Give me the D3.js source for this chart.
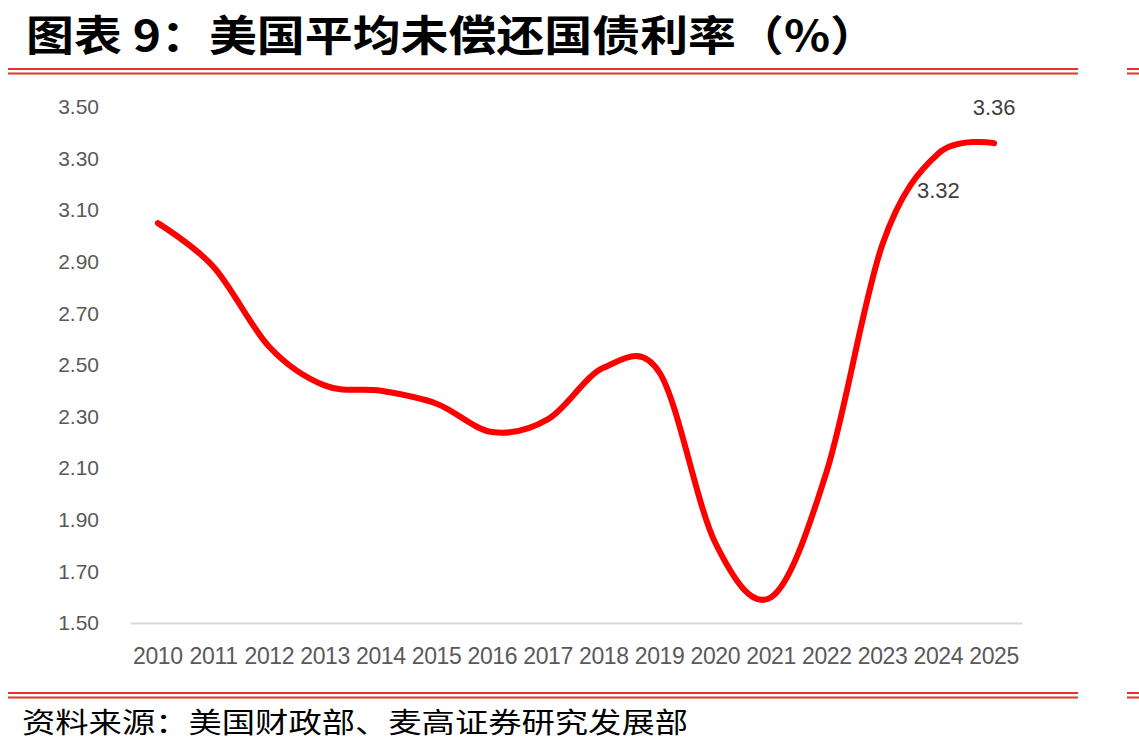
<!DOCTYPE html>
<html>
<head>
<meta charset="utf-8">
<script src="https://cdn.jsdelivr.net/npm/d3@7"></script>
<style>
  html, body { margin: 0; padding: 0; background: #fff; }
  svg { display: block; }
</style>
</head>
<body>
<svg id="chart" width="1139" height="754"></svg>
<script>
const titleText = "图表 9：美国平均未偿还国债利率（%）";
const sourceText = "资料来源：美国财政部、麦高证券研究发展部";
const years = ["2010","2011","2012","2013","2014","2015","2016","2017","2018","2019","2020","2021","2022","2023","2024","2025"];
const rates = [3.05, 2.88, 2.57, 2.42, 2.40, 2.35, 2.24, 2.29, 2.49, 2.47, 1.81, 1.60, 2.09, 2.97, 3.32, 3.36];
const yTicks = [1.50, 1.70, 1.90, 2.10, 2.30, 2.50, 2.70, 2.90, 3.10, 3.30, 3.50];
const labelled = [{year: "2024", value: 3.32, pos: "below"}, {year: "2025", value: 3.36, pos: "above"}];

const svg = d3.select("#chart");
const red = "#e23232";

// Title
svg.append("text")
  .attr("x", 26).attr("y", 51)
  .attr("font-family", "'Noto Sans CJK SC', sans-serif")
  .attr("font-weight", "bold")
  .attr("font-size", 42)
  .attr("fill", "#000")
  .attr("textLength", 852)
  .attr("lengthAdjust", "spacingAndGlyphs")
  .text(titleText);

// Double red rules
function rules(y) {
  [[8, 1078], [1127, 1139]].forEach(([x1, x2]) => {
    [y, y + 4.5].forEach(yy => {
      svg.append("line").attr("x1", x1).attr("x2", x2).attr("y1", yy).attr("y2", yy)
        .attr("stroke", red).attr("stroke-width", 2);
    });
  });
}
rules(69);
rules(693);

// Source
svg.append("text")
  .attr("x", 22).attr("y", 733)
  .attr("font-family", "'Noto Sans CJK SC', sans-serif")
  .attr("font-size", 28)
  .attr("fill", "#000")
  .attr("textLength", 666)
  .attr("lengthAdjust", "spacingAndGlyphs")
  .text(sourceText);

// Scales
const x = d3.scaleBand().domain(years).range([130, 1022]);
const y = d3.scaleLinear().domain([1.5, 3.5]).range([623, 107]);
const cx = d => x(d) + x.bandwidth() / 2;

// Y axis labels
const yAxis = d3.axisLeft(y).tickValues(yTicks).tickFormat(d3.format(".2f")).tickSize(0).tickPadding(0);
const gy = svg.append("g").attr("transform", "translate(99,0)").call(yAxis);
gy.select(".domain").remove();
gy.selectAll("text")
  .attr("font-family", "'Liberation Sans', Arial, sans-serif")
  .attr("font-size", 21)
  .attr("fill", "#595959");

// X axis
const xAxis = d3.axisBottom(x).tickSize(0).tickPadding(0);
const gx = svg.append("g").attr("transform", "translate(0,623)").call(xAxis);
gx.select(".domain").attr("stroke", "#d9d9d9").attr("stroke-width", 2);
gx.selectAll("text")
  .attr("y", 41)
  .attr("dy", 0)
  .attr("font-family", "'Liberation Sans', Arial, sans-serif")
  .attr("font-size", 23)
  .attr("letter-spacing", -0.3)
  .attr("fill", "#595959");

// Line
const line = d3.line()
  .x((d, i) => cx(years[i]))
  .y(d => y(d))
  .curve(d3.curveCatmullRom.alpha(0));
svg.append("path")
  .datum(rates)
  .attr("d", line)
  .attr("fill", "none")
  .attr("stroke", "#ff0000")
  .attr("stroke-width", 6)
  .attr("stroke-linecap", "round")
  .attr("stroke-linejoin", "round");

// Data labels
labelled.forEach(l => {
  svg.append("text")
    .attr("x", cx(l.year))
    .attr("y", l.pos === "above" ? y(l.value) - 28 : y(l.value) + 45)
    .attr("text-anchor", "middle")
    .attr("font-family", "'Liberation Sans', Arial, sans-serif")
    .attr("font-size", 22)
    .attr("fill", "#404040")
    .text(d3.format(".2f")(l.value));
});
</script>
</body>
</html>
